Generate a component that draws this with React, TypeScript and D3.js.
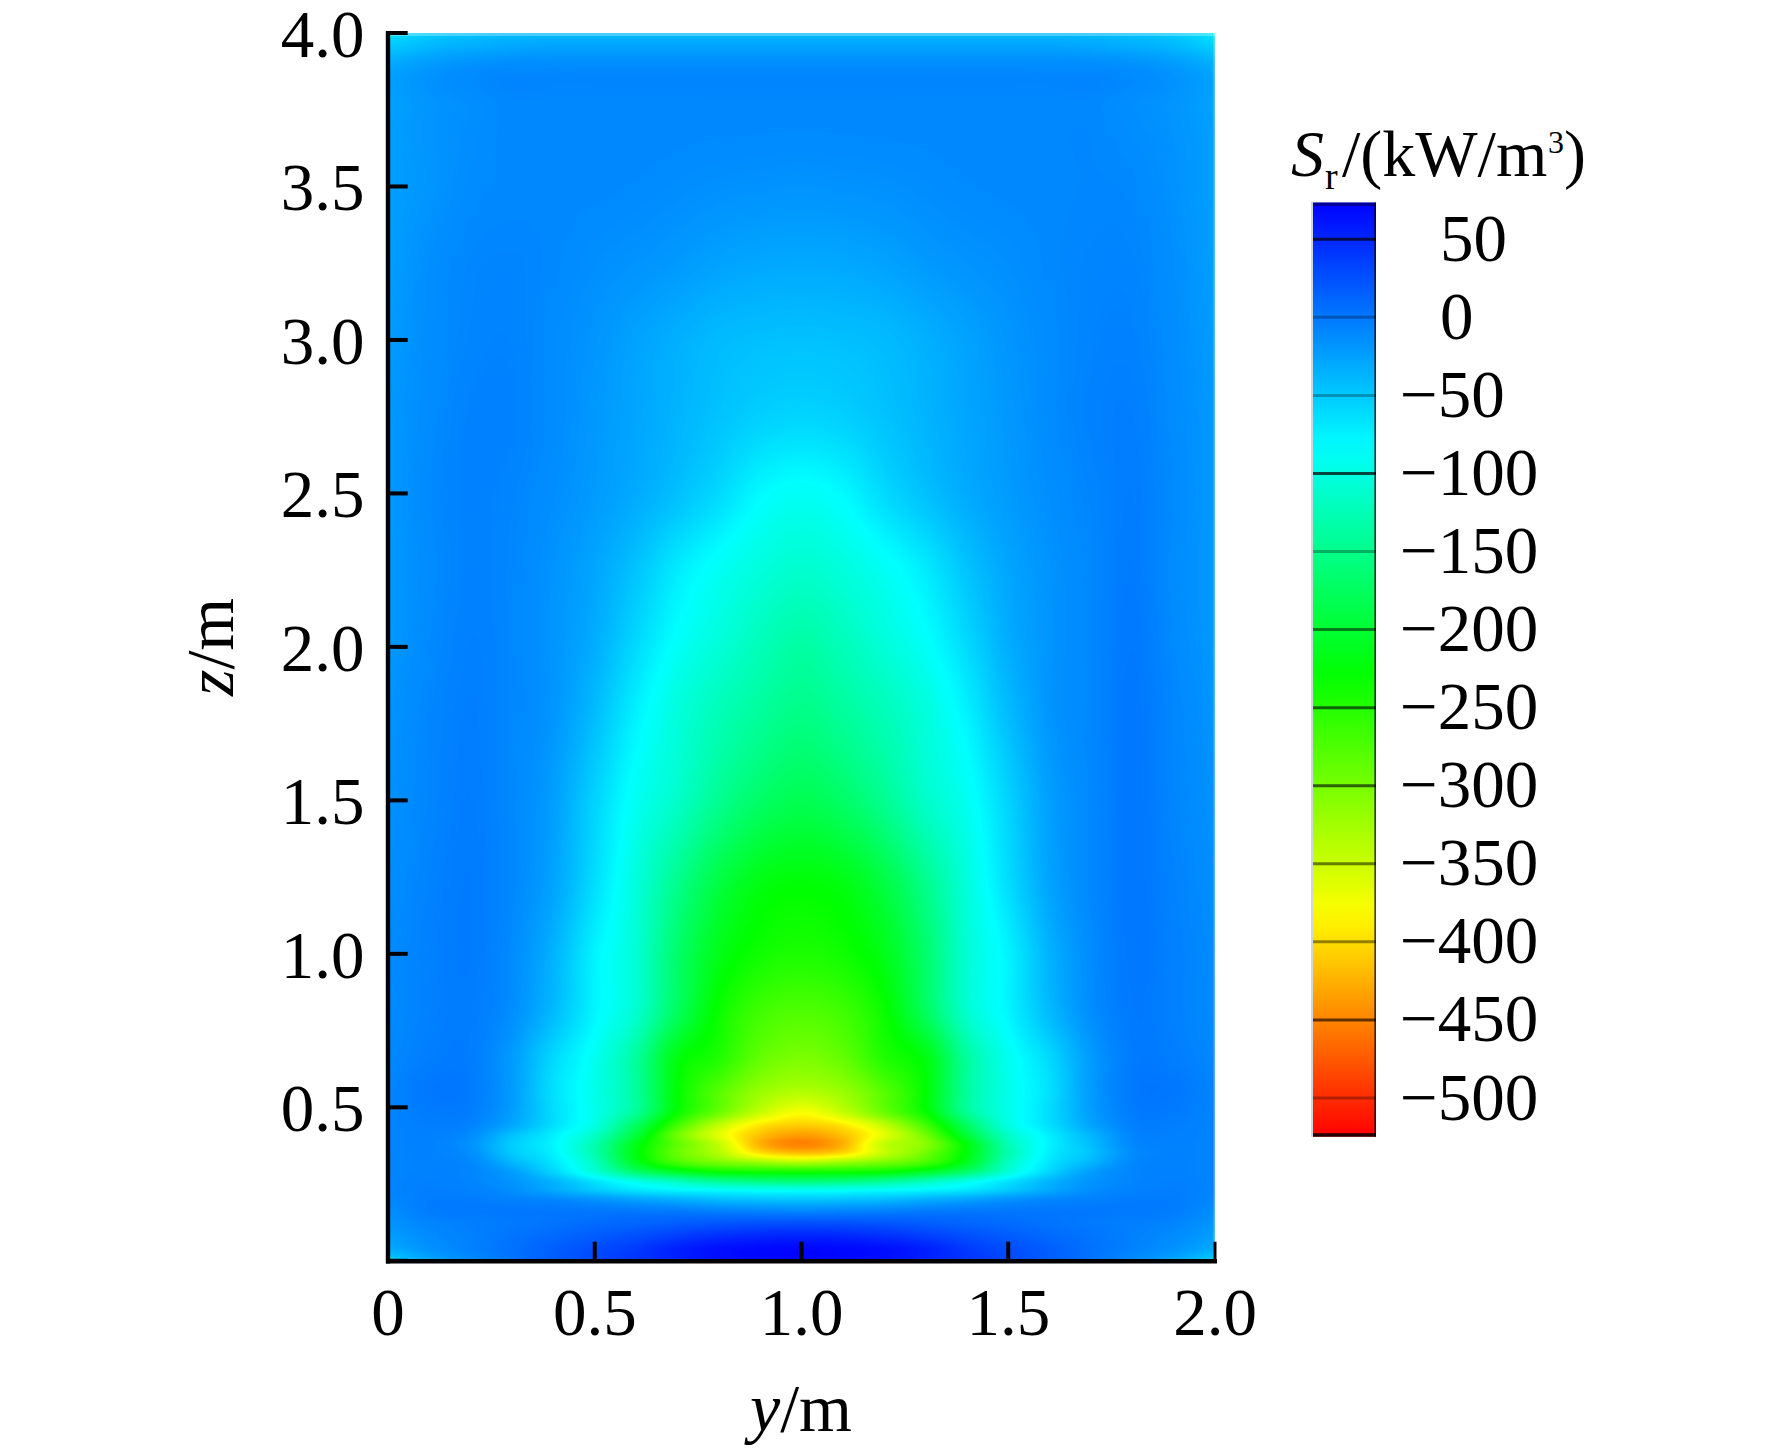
import React, { useMemo } from "react";
import * as d3 from "d3";

// y positions (m) of the table columns
const yColumns = [0, 0.1, 0.2, 0.3, 0.4, 0.5, 0.6, 0.7, 0.8, 0.9, 1.0, 1.1, 1.2, 1.3, 1.4, 1.5, 1.6, 1.7, 1.8, 1.9, 2.0];
// z positions (m) of the table rows
const zRows = [0, 0.04, 0.08, 0.12, 0.16, 0.2, 0.23, 0.26, 0.29, 0.32, 0.35, 0.38, 0.41, 0.44, 0.48, 0.55, 0.65, 0.8, 1.0, 1.2, 1.5, 1.83, 2.04, 2.26, 2.48, 2.75, 3.0, 3.25, 3.5, 3.75, 3.9, 3.96, 4.0];
// Sr (kW/m3); one row per z
const srValues = [
  [-58, -30, -12, 3, 17, 30, 42, 54, 65, 70, 72, 70, 65, 54, 42, 30, 17, 3, -12, -30, -58],
  [-32, -16, -6, 4, 15, 26, 38, 54, 64, 68, 70, 68, 64, 54, 38, 26, 15, 4, -6, -16, -32],
  [-24, -12, -5, 2, 9, 17, 25, 36, 45, 50, 52, 50, 45, 36, 25, 17, 9, 2, -5, -12, -24],
  [-18, -8, -4, -1, 3, 8, 12, 17, 22, 25, 26, 25, 22, 17, 12, 8, 3, -1, -4, -8, -18],
  [-14, -3, -1, 0, 0, 0, 0, -1, -4, -6, -8, -6, -4, -1, 0, 0, 0, 0, -1, -3, -14],
  [-10, -3, -3, -6, -10, -18, -28, -36, -44, -48, -50, -48, -44, -36, -28, -18, -10, -6, -3, -3, -10],
  [-8, -4, -6, -14, -30, -50, -68, -78, -84, -88, -90, -88, -84, -78, -68, -50, -30, -14, -6, -4, -8],
  [-8, -5, -8, -18, -38, -68, -98, -125, -148, -160, -165, -160, -148, -125, -98, -68, -38, -18, -8, -5, -8],
  [-8, -6, -8, -24, -58, -105, -168, -208, -232, -238, -240, -238, -232, -208, -168, -105, -58, -24, -8, -6, -8],
  [-8, -6, -10, -38, -68, -118, -210, -270, -300, -320, -335, -320, -300, -270, -210, -118, -68, -38, -10, -6, -8],
  [-8, -6, -14, -50, -76, -130, -220, -290, -335, -395, -415, -400, -345, -295, -222, -130, -74, -46, -12, -6, -8],
  [-8, -6, -16, -52, -78, -128, -215, -285, -345, -425, -452, -425, -345, -310, -222, -125, -76, -42, -10, -6, -8],
  [-8, -5, -12, -44, -74, -115, -195, -295, -365, -415, -435, -415, -365, -295, -195, -115, -73, -38, -8, -5, -8],
  [-8, -4, -7, -30, -64, -100, -175, -270, -345, -395, -410, -395, -345, -270, -175, -100, -64, -28, -5, -4, -8],
  [-8, -2, -4, -24, -62, -95, -145, -235, -295, -350, -380, -350, -295, -235, -145, -95, -62, -24, -3, -2, -8],
  [-8, 0, -2, -22, -64, -95, -140, -228, -280, -320, -335, -320, -280, -228, -140, -95, -64, -22, -1, 0, -8],
  [-10, -3, -3, -22, -60, -92, -140, -222, -250, -290, -305, -290, -250, -222, -140, -92, -60, -22, -2, -3, -10],
  [-12, -5, -3, -14, -42, -78, -112, -178, -235, -268, -278, -268, -235, -178, -112, -78, -42, -14, -1, -5, -12],
  [-12, -5, -2, -12, -36, -76, -108, -168, -215, -238, -245, -238, -215, -168, -108, -76, -36, -12, 0, -5, -12],
  [-14, -6, -2, -10, -28, -64, -104, -152, -195, -222, -229, -222, -195, -152, -104, -64, -28, -10, 0, -6, -14],
  [-16, -8, -3, -10, -24, -56, -90, -114, -146, -170, -182, -170, -146, -114, -90, -56, -24, -10, 0, -8, -16],
  [-18, -9, -4, -9, -18, -40, -72, -100, -120, -136, -148, -136, -120, -100, -72, -40, -18, -9, 0, -9, -18],
  [-20, -11, -5, -9, -18, -32, -58, -84, -102, -120, -132, -120, -102, -84, -58, -32, -18, -9, -1, -11, -20],
  [-20, -12, -6, -9, -17, -28, -46, -70, -88, -102, -110, -102, -88, -70, -46, -28, -17, -9, -2, -12, -20],
  [-20, -11, -6, -8, -14, -22, -32, -46, -62, -82, -90, -82, -62, -46, -32, -22, -14, -8, -3, -11, -20],
  [-20, -12, -6, -6, -12, -20, -28, -37, -46, -54, -57, -54, -46, -37, -28, -20, -12, -6, -4, -12, -20],
  [-22, -13, -8, -7, -12, -18, -26, -34, -41, -44, -45, -44, -41, -34, -26, -18, -12, -7, -6, -13, -22],
  [-24, -14, -9, -8, -10, -14, -17, -21, -26, -29, -30, -29, -26, -21, -17, -14, -10, -8, -8, -14, -24],
  [-24, -18, -12, -10, -10, -10, -11, -13, -15, -16, -17, -16, -15, -13, -11, -10, -10, -9, -10, -16, -24],
  [-26, -18, -14, -10, -10, -10, -10, -10, -10, -10, -10, -10, -10, -10, -10, -10, -10, -10, -14, -18, -26],
  [-32, -22, -16, -13, -13, -13, -13, -13, -13, -13, -13, -13, -13, -13, -13, -13, -13, -13, -16, -22, -34],
  [-52, -40, -34, -30, -28, -28, -28, -28, -28, -28, -28, -28, -28, -28, -28, -28, -28, -30, -34, -40, -54],
  [-66, -52, -46, -42, -42, -42, -42, -42, -42, -42, -42, -42, -42, -42, -42, -42, -42, -42, -46, -52, -68],
];

const xTicks = [0, 0.5, 1.0, 1.5, 2.0];
const xTickLabels = ["0", "0.5", "1.0", "1.5", "2.0"];
const zTicks = [0, 0.5, 1.0, 1.5, 2.0, 2.5, 3.0, 3.5, 4.0];
const zTickLabels = ["", "0.5", "1.0", "1.5", "2.0", "2.5", "3.0", "3.5", "4.0"];
const barValues = [50, 0, -50, -100, -150, -200, -250, -300, -350, -400, -450, -500];
const barLineShade = [0.72, 0.28, 0.28, 0.72, 0.3, 0.5, 0.6, 0.62, 0.5, 0.42, 0.62, 0.3];
const colorStops = [74, -83, -229, -381, -525];
const colorNames = ["#0000ff", "#00ffff", "#00ff00", "#ffff00", "#ff0000"];

const W = 1772;
const H = 1451;
const SERIF = "'Liberation Serif', 'Times New Roman', serif";

const xScale = d3.scaleLinear().domain([0, 2]).range([388, 1215]);
const zScale = d3.scaleLinear().domain([0, 4]).range([1260.8, 33]);
const barScale = d3.scaleLinear().domain([50, -500]).range([239.3, 1098]);
const colorScale = d3.scaleLinear<string>().domain(colorStops).range(colorNames).clamp(true);

function hermite(xs: number[], vs: number[], x: number) {
  const n = xs.length;
  let i = d3.bisectRight(xs, x) - 1;
  i = Math.max(0, Math.min(n - 2, i));
  const h = xs[i + 1] - xs[i];
  const t = (x - xs[i]) / h;
  const slope = (k: number) => {
    if (k <= 0) return (vs[1] - vs[0]) / (xs[1] - xs[0]);
    if (k >= n - 1) return (vs[n - 1] - vs[n - 2]) / (xs[n - 1] - xs[n - 2]);
    const a = xs[k] - xs[k - 1];
    const b = xs[k + 1] - xs[k];
    return (b * (vs[k] - vs[k - 1]) / a + a * (vs[k + 1] - vs[k]) / b) / (a + b);
  };
  const t2 = t * t;
  const t3 = t2 * t;
  return (2 * t3 - 3 * t2 + 1) * vs[i] + (t3 - 2 * t2 + t) * h * slope(i) + (-2 * t3 + 3 * t2) * vs[i + 1] + (t3 - t2) * h * slope(i + 1);
}

function renderField(px0: number, px1: number, py0: number, py1: number) {
  const w = Math.round(px1 - px0);
  const h = Math.round(py1 - py0);
  const canvas = document.createElement("canvas");
  canvas.width = w;
  canvas.height = h;
  const ctx = canvas.getContext("2d")!;
  const img = ctx.createImageData(w, h);
  const lutN = 1400;
  const lutLo = -560;
  const lutHi = 100;
  const lut = d3.range(lutN).map((i) => d3.rgb(colorScale(lutLo + ((lutHi - lutLo) * i) / (lutN - 1))));
  const rowsAtX: number[][] = srValues.map((row) => {
    const out = new Array(w);
    for (let i = 0; i < w; i++) out[i] = hermite(yColumns, row, xScale.invert(px0 + i + 0.5));
    return out;
  });
  for (let j = 0; j < h; j++) {
    const z = zScale.invert(py0 + j + 0.5);
    for (let i = 0; i < w; i++) {
      const col = new Array(zRows.length);
      for (let k = 0; k < zRows.length; k++) col[k] = rowsAtX[k][i];
      const v = hermite(zRows, col, z);
      const idx = Math.max(0, Math.min(lutN - 1, Math.round(((v - lutLo) / (lutHi - lutLo)) * (lutN - 1))));
      const c = lut[idx];
      const o = (j * w + i) * 4;
      img.data[o] = c.r;
      img.data[o + 1] = c.g;
      img.data[o + 2] = c.b;
      img.data[o + 3] = 255;
    }
  }
  ctx.putImageData(img, 0, 0);
  return canvas.toDataURL("image/png");
}

export default function App() {
  const px0 = xScale(0);
  const px1 = xScale(2);
  const py0 = zScale(4);
  const py1 = zScale(0);
  const href = useMemo(() => renderField(px0, px1, py0, py1), []);
  const barX0 = 1313;
  const barX1 = 1376;
  const barTop = 202.5;
  const barBottom = 1136.7;
  const gradStops = d3.range(0, 41).map((i) => {
    const f = i / 40;
    const y = barTop + (barBottom - barTop) * f;
    return <stop key={i} offset={f} stopColor={colorScale(barScale.invert(y))} />;
  });
  return (
    <svg width={W} height={H} viewBox={`0 0 ${W} ${H}`} style={{ position: "absolute", left: 0, top: 0, background: "#fff" }} fontFamily={SERIF} fill="#000">
      <defs>
        <linearGradient id="bar" x1="0" y1="0" x2="0" y2="1">
          {gradStops}
        </linearGradient>
      </defs>
      <image href={href} x={px0} y={py0} width={px1 - px0} height={py1 - py0} preserveAspectRatio="none" />
      <rect x={px0} y={py0} width={px1 - px0} height={3} fill="#fff" opacity={0.28} />
      <rect x={px1 - 1.5} y={py0} width={1.5} height={py1 - py0} fill="#fff" opacity={0.3} />
      {/* axes */}
      <line x1={388} x2={388} y1={31} y2={1263.5} stroke="#000" strokeWidth={4.4} />
      <line x1={386} x2={1217} y1={1261.3} y2={1261.3} stroke="#000" strokeWidth={4.4} />
      {zTicks.map((t, i) => (
        <g key={t}>
          <line x1={388} x2={407.7} y1={zScale(t)} y2={zScale(t)} stroke="#000" strokeWidth={4} />
          {zTickLabels[i] && (
            <text x={364.5} y={zScale(t) + 24} fontSize={67} textAnchor="end">
              {zTickLabels[i]}
            </text>
          )}
        </g>
      ))}
      {xTicks.map((t, i) => (
        <g key={t}>
          <line x1={xScale(t)} x2={xScale(t)} y1={1241.7} y2={1261} stroke="#000" strokeWidth={t === 2 ? 3 : 4} />
          <text x={xScale(t)} y={1335} fontSize={67} textAnchor="middle">
            {xTickLabels[i]}
          </text>
        </g>
      ))}
      <text x={750} y={1431} fontSize={68}>
        <tspan fontStyle="italic">y</tspan>/m
      </text>
      <text transform="translate(233,696) rotate(-90)" fontSize={68}>
        <tspan fontStyle="italic">z</tspan>/m
      </text>
      {/* colour bar */}
      <rect x={barX0 - 2} y={barTop - 1} width={2} height={barBottom - barTop + 1} fill="#9fb0c0" opacity={0.5} />
      <rect x={barX0} y={barTop} width={barX1 - barX0} height={barBottom - barTop} fill="url(#bar)" />
      <rect x={barX0} y={barTop} width={barX1 - barX0} height={3.5} fill="#000" opacity={0.4} />
      <rect x={barX0} y={barBottom - 3.5} width={barX1 - barX0} height={3.5} fill="#000" opacity={0.85} />
      <rect x={barX1 - 1.7} y={barTop} width={1.7} height={barBottom - barTop} fill="#000" opacity={0.7} />
      {barValues.map((v, i) => (
        <g key={v}>
          <line x1={barX0} x2={barX1} y1={barScale(v)} y2={barScale(v)} stroke="#000" strokeOpacity={barLineShade[i]} strokeWidth={3} />
          <text x={v < 0 ? 1400 : 1440} y={barScale(v) + 21.5} fontSize={67}>
            {v < 0 ? `\u2212${Math.abs(v)}` : `${v}`}
          </text>
        </g>
      ))}
      <text x={1291} y={176} fontSize={66} fontStyle="italic">S</text>
      <text x={1325} y={189} fontSize={38}>r</text>
      <text x={1342} y={176} fontSize={66}>/(kW/m</text>
      <text x={1548} y={153} fontSize={32}>3</text>
      <text x={1564} y={176} fontSize={66}>)</text>
    </svg>
  );
}
